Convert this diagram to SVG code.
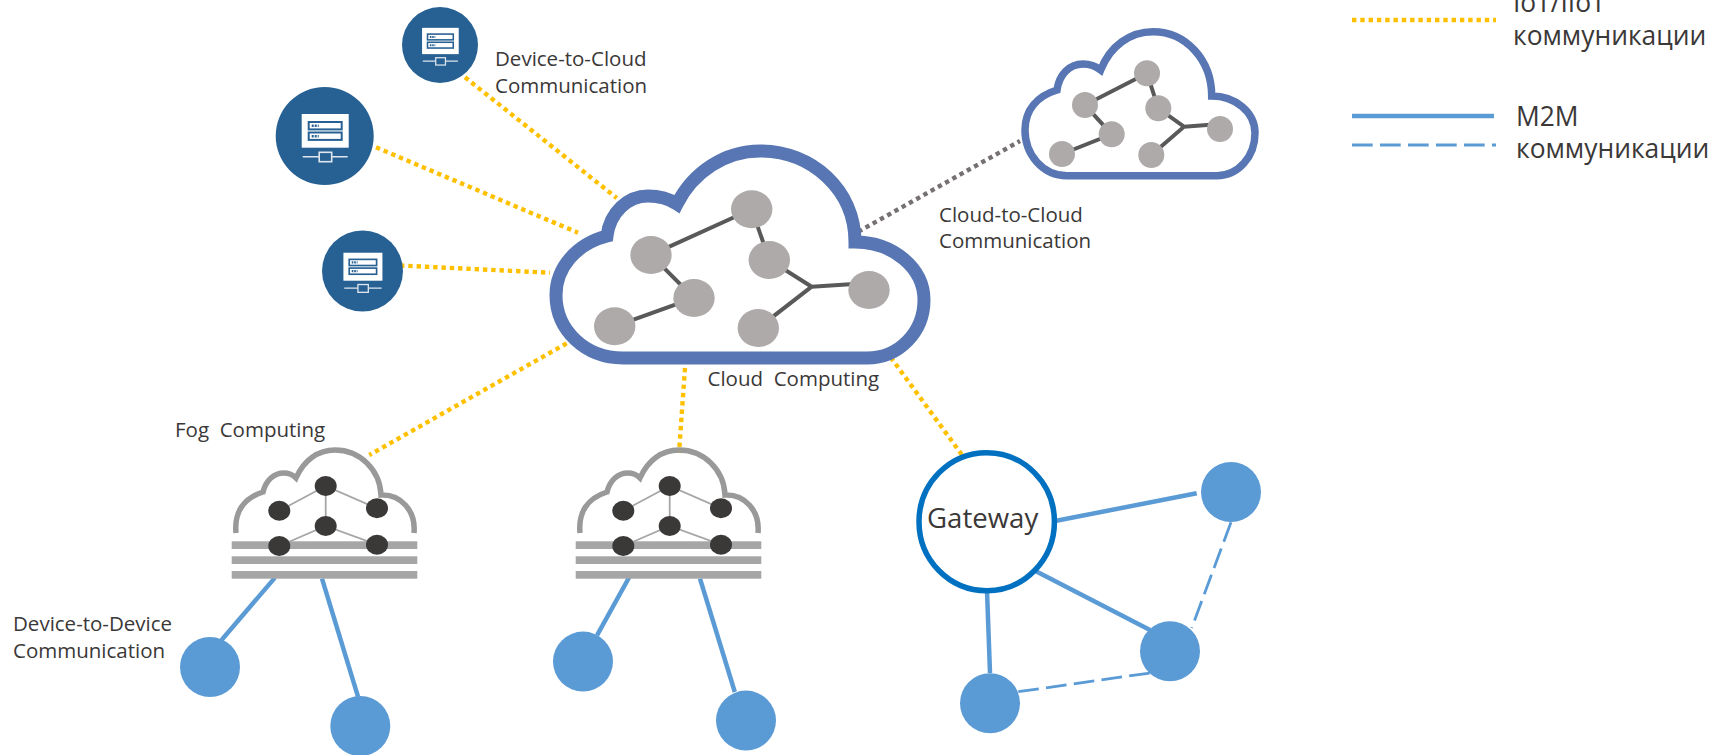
<svg xmlns="http://www.w3.org/2000/svg" width="1712" height="755" viewBox="0 0 1712 755">
<style>
text{font-family:"Open Sans","Noto Sans","Noto Sans CJK SC",sans-serif;fill:#3b3838;font-size:20.5px;white-space:pre}
.leg{font-size:26.4px}
.gw{font-size:27.6px}
.iot{fill:none;stroke:#ffc000;stroke-width:4.4;stroke-dasharray:4.4 3.9}
.c2c{fill:none;stroke:#767171;stroke-width:4.4;stroke-dasharray:4.4 3.9}
.m2m{fill:none;stroke:#5b9bd5;stroke-width:4.5}
.dash{fill:none;stroke:#5b9bd5;stroke-width:2.8;stroke-dasharray:20.7 7.3}
.dev{fill:#5b9bd5}
.srv{fill:#276193}
.big{fill:none;stroke:#5776b3;stroke-width:13;stroke-linejoin:miter}
.small{fill:none;stroke:#5776b3;stroke-width:7.5}
.net{fill:none;stroke:#595959;stroke-width:4}
.node{fill:#aeaaaa}
.fogc{fill:none;stroke:#999;stroke-width:5.5}
.fogl{fill:none;stroke:#a6a6a6;stroke-width:1.8}
.fogn{fill:#3b3838}
.bar{fill:#a6a6a6}
</style>
<defs>
<g id="srv-icon">
<rect x="-23" y="-22" width="47" height="33.7" fill="#fff"/>
<rect x="-16" y="-14" width="33" height="7.4" fill="#fff" stroke="#276193" stroke-width="2"/>
<rect x="-16" y="-3.5" width="33" height="7.4" fill="#fff" stroke="#276193" stroke-width="2"/>
<path d="M-13 -10.3h7M-13 0.2h7" stroke="#276193" stroke-width="2.6" stroke-dasharray="2 1"/>
<path d="M-22 20.7H23" stroke="#dfe6ee" stroke-width="1.6"/>
<rect x="-5.5" y="16.3" width="12.5" height="9.4" fill="#276193" stroke="#dfe6ee" stroke-width="1.6"/>
</g>
<g id="fog-shape">
<path class="fogc" d="M236 533C234 512 244 498 263 492C266 480 274 473 284 473C288 473 293 475 296 478C304 460 318 450 335 450C360 450 380 470 381 495C400 494 416 510 414 533"/>
<path class="fogl" d="M279.3 510.7L325.7 486L377 508.3M325.7 486V526M279.3 546L325.7 526L377 544.7"/>
<rect class="bar" x="231.7" y="541.3" width="185.6" height="7.7"/>
<rect class="bar" x="231.7" y="556.3" width="185.6" height="7.7"/>
<rect class="bar" x="231.7" y="571" width="185.6" height="7.7"/>
<ellipse class="fogn" cx="325.7" cy="486" rx="11" ry="10"/>
<ellipse class="fogn" cx="279.3" cy="510.7" rx="11" ry="10"/>
<ellipse class="fogn" cx="377" cy="508.3" rx="11" ry="10"/>
<ellipse class="fogn" cx="325.7" cy="526" rx="11" ry="10"/>
<ellipse class="fogn" cx="279.3" cy="546" rx="11" ry="10"/>
<ellipse class="fogn" cx="377" cy="544.7" rx="11" ry="10"/>
</g>
</defs>

<g id="connectors">
<path class="iot" d="M465 77.3L616.7 198"/>
<path class="iot" d="M376 147.3L578 232.7"/>
<path class="iot" d="M400 265.500L550 272.700"/>
<path class="iot" d="M566.700 343.300L369.300 455"/>
<path class="iot" d="M685 368L679 453"/>
<path class="iot" d="M890.700 357.300L963.300 456.700"/>
<path class="c2c" d="M858.300 231.700L1020 141"/>
<path class="m2m" d="M275 577.600L221.600 640"/>
<path class="m2m" d="M322 578.600L358 696.600"/>
<path class="m2m" d="M631 574L597 635.400"/>
<path class="m2m" d="M700 578.700L734.800 692"/>
<path class="m2m" d="M1055 521L1196.700 493.300"/>
<path class="m2m" d="M1035 570.700L1150 630"/>
<path class="m2m" d="M987 590.700L990 673"/>
<path class="dash" d="M1231 522.300L1191.700 628"/>
<path class="dash" d="M1018.300 691.700L1150 673"/>
</g>

<g id="server-1"><circle class="srv" cx="440" cy="45" r="38"/><use href="#srv-icon" transform="translate(440 45) scale(.78)"/></g>
<g id="server-2"><circle class="srv" cx="324.700" cy="136" r="49"/><use href="#srv-icon" transform="translate(324.700 136)"/></g>
<g id="server-3"><circle class="srv" cx="362.500" cy="271" r="40.500"/><use href="#srv-icon" transform="translate(362.500 271) scale(.83)"/></g>

<g id="cloud-main">
<path class="big" d="M623 358L867 358C899 358 924 332 924 300C924 268 893 242 855 242C855 190 812 151 760 151C725 151 693 172 677 204C668 198 658 196 648 196C628 196 610 212 607 236C576 244 556 268 556 295C556 330 585 358 623 358Z"/>
<path class="net" d="M751.700 209.300L651 255L694 298L614.700 326.300M751.700 209.300L769.300 260L811.700 286.700L758.300 328M811.700 286.700L869 283"/>
<ellipse class="node" cx="751.700" cy="209.300" rx="20.700" ry="19"/>
<ellipse class="node" cx="651" cy="255" rx="20.700" ry="19"/>
<ellipse class="node" cx="769.300" cy="260" rx="20.700" ry="19"/>
<ellipse class="node" cx="694" cy="298" rx="20.700" ry="19"/>
<ellipse class="node" cx="869" cy="290" rx="20.700" ry="19"/>
<ellipse class="node" cx="614.700" cy="326.300" rx="20.700" ry="19"/>
<ellipse class="node" cx="758.300" cy="328" rx="20.700" ry="19"/>
<text x="707.500" y="386">Cloud  Computing</text>
</g>

<g id="cloud-remote">
<path class="small" d="M1067 175.700L1217 175.700C1238 175.700 1255 157 1255 133C1255 112 1235 96 1211.700 96C1211.700 60 1186 31.700 1153 31.700C1130 31.700 1110 46 1100.700 70C1095 65.500 1089 64 1083 64C1069 64 1059 75 1057 90C1037 96 1025 110 1025 130C1025 155 1043 175.700 1067 175.700Z"/>
<path class="net" d="M1147 73.300L1085 105L1111.700 134.300L1062 154M1147 73.300L1158.300 108.300L1184 126.700L1151.300 155M1184 126.700L1220 124"/>
<circle class="node" cx="1147" cy="73.300" r="13"/>
<circle class="node" cx="1085" cy="105" r="13"/>
<circle class="node" cx="1158.300" cy="108.300" r="13"/>
<circle class="node" cx="1111.700" cy="134.300" r="13"/>
<circle class="node" cx="1220" cy="129" r="13"/>
<circle class="node" cx="1062" cy="154" r="13"/>
<circle class="node" cx="1151.300" cy="155" r="13"/>
</g>

<g id="fog-1"><use href="#fog-shape"/><text x="175" y="437">Fog  Computing</text></g>
<g id="fog-2"><use href="#fog-shape" transform="translate(344 0)"/></g>

<g id="gateway">
<ellipse cx="986.700" cy="521.700" rx="67.700" ry="69" fill="#fff" stroke="#0070c0" stroke-width="5.500"/>
<text class="gw" x="927" y="528">Gateway</text>
</g>
<g id="device-1"><circle class="dev" cx="210" cy="667" r="30"/></g>
<g id="device-2"><circle class="dev" cx="360.300" cy="726" r="30"/></g>
<g id="device-3"><circle class="dev" cx="583" cy="661.600" r="30"/></g>
<g id="device-4"><circle class="dev" cx="746" cy="720.600" r="30"/></g>
<g id="device-5"><circle class="dev" cx="1231" cy="492" r="30"/></g>
<g id="device-6"><circle class="dev" cx="1170" cy="651.300" r="30"/></g>
<g id="device-7"><circle class="dev" cx="990" cy="703.300" r="30"/></g>

<g id="labels">
<text x="495" y="66">Device-to-Cloud</text>
<text x="495" y="93">Communication</text>
<text x="939" y="222">Cloud-to-Cloud</text>
<text x="939" y="248">Communication</text>
<text x="13" y="631">Device-to-Device</text>
<text x="13" y="658">Communication</text>
</g>

<g id="legend">
<path class="iot" d="M1352 20H1496"/>
<path class="m2m" d="M1352 116H1494"/>
<path class="dash" d="M1352 145H1496"/>
<text class="leg" x="1513" y="12">IoT/IIoT</text>
<text class="leg" x="1513" y="45">коммуникации</text>
<text class="leg" x="1516" y="126">M2M</text>
<text class="leg" x="1516" y="158">коммуникации</text>
</g>
</svg>
